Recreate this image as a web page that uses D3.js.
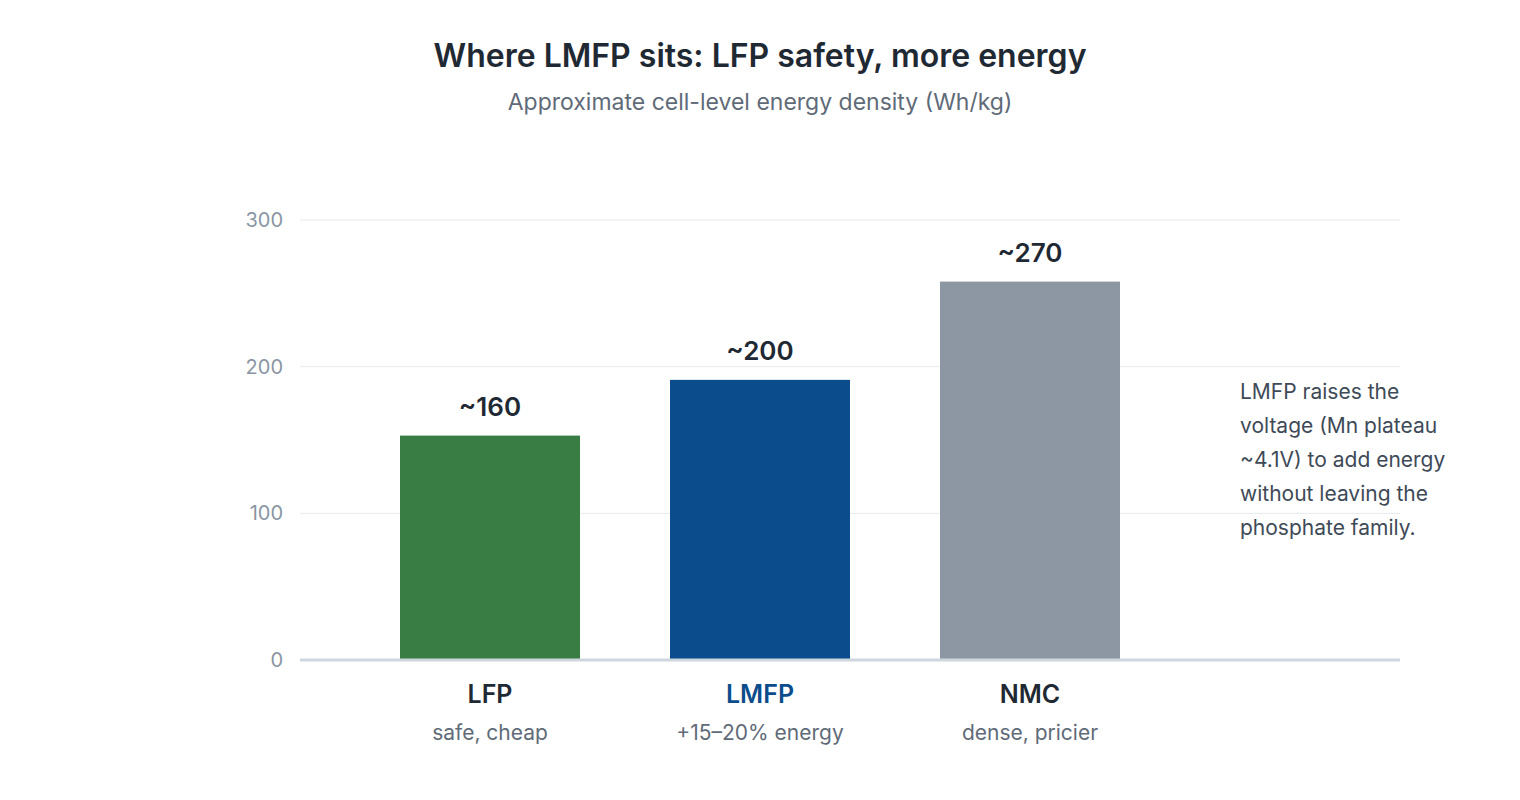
<!DOCTYPE html>
<html>
<head>
<meta charset="utf-8">
<script src="https://cdn.jsdelivr.net/npm/d3@7"></script>
<style>
  body { margin: 0; background: #fff; font-family: Inter, "Noto Sans", sans-serif; }
</style>
</head>
<body>
<svg id="chart" width="1520" height="800"></svg>
<script>
const categories = ["LFP", "LMFP", "NMC"];
const subLabels = ["safe, cheap", "+15\u201320% energy", "dense, pricier"];
const values = [153, 191, 258];
const valueLabels = ["~160", "~200", "~270"];
const colors = ["#3a7d44", "#0b4d8c", "#8c97a3"];
const nameColors = ["#1f2933", "#0b4d8c", "#1f2933"];
const yTicks = [0, 100, 200, 300];
const note = ["LMFP raises the", "voltage (Mn plateau", "~4.1V) to add energy", "without leaving the", "phosphate family."];

const svg = d3.select("#chart");

const x = d3.scaleBand().domain(categories).range([355, 1165]).paddingInner(1 / 3).paddingOuter(1 / 6);
const y = d3.scaleLinear().domain([0, 300]).range([660, 220]);

// title
svg.append("text").attr("x", 760).attr("y", 67).attr("text-anchor", "middle")
  .attr("font-size", 32).attr("font-weight", 600).attr("fill", "#1f2933")
  .text("Where LMFP sits: LFP safety, more energy");
svg.append("text").attr("x", 760).attr("y", 110).attr("text-anchor", "middle")
  .attr("font-size", 23).attr("fill", "#5f6b78")
  .text("Approximate cell-level energy density (Wh/kg)");

// grid
svg.append("g").selectAll("line").data(yTicks.filter(d => d > 0)).join("line")
  .attr("x1", 300).attr("x2", 1400)
  .attr("y1", d => y(d)).attr("y2", d => y(d))
  .attr("stroke", "#e6e9ed").attr("stroke-width", 1);

svg.append("g").selectAll("text").data(yTicks).join("text")
  .attr("x", 283).attr("y", d => y(d) + 7).attr("text-anchor", "end")
  .attr("font-size", 20).attr("fill", "#8a96a3")
  .text(d => d);

// bars
svg.append("g").selectAll("rect").data(categories).join("rect")
  .attr("x", d => x(d)).attr("width", x.bandwidth())
  .attr("y", (d, i) => y(values[i])).attr("height", (d, i) => y(0) - y(values[i]))
  .attr("fill", (d, i) => colors[i]);

svg.append("g").selectAll("text").data(categories).join("text")
  .attr("x", d => x(d) + x.bandwidth() / 2).attr("y", (d, i) => y(values[i]) - 20)
  .attr("text-anchor", "middle").attr("font-size", 26).attr("font-weight", 600).attr("fill", "#1f2933")
  .text((d, i) => valueLabels[i]);

// baseline
svg.append("line").attr("x1", 300).attr("x2", 1400).attr("y1", y(0)).attr("y2", y(0))
  .attr("stroke", "#cfd6de").attr("stroke-width", 3);

// category labels
svg.append("g").selectAll("text").data(categories).join("text")
  .attr("x", d => x(d) + x.bandwidth() / 2).attr("y", 703)
  .attr("text-anchor", "middle").attr("font-size", 25).attr("font-weight", 600)
  .attr("fill", (d, i) => nameColors[i]).text(d => d);
svg.append("g").selectAll("text").data(categories).join("text")
  .attr("x", d => x(d) + x.bandwidth() / 2).attr("y", 740)
  .attr("text-anchor", "middle").attr("font-size", 21).attr("fill", "#5f6b78")
  .text((d, i) => subLabels[i]);

// note
svg.append("text").attr("x", 1240).attr("y", 399).attr("font-size", 21).attr("fill", "#3e4a57")
  .selectAll("tspan").data(note).join("tspan")
  .attr("x", 1240).attr("dy", (d, i) => i === 0 ? 0 : 34).text(d => d);
</script>
</body>
</html>
